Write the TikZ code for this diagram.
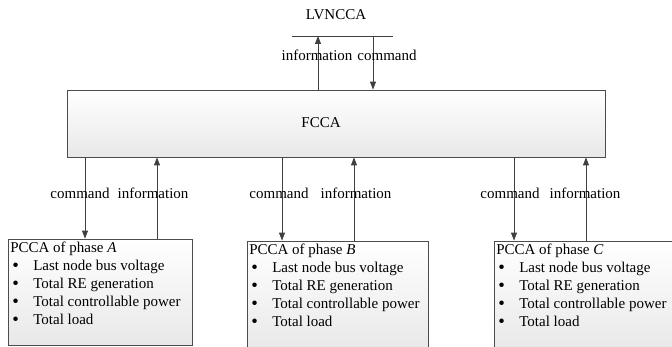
\documentclass[tikz,border=0pt]{standalone}
\usepackage{fontspec}
\setmainfont{Liberation Serif}
\usetikzlibrary{arrows.meta,calc}
\newcommand{\fs}{\fontsize{15}{18}\selectfont}
\newcommand{\itm}[1]{\hspace*{2pt}\makebox[21pt][l]{\raisebox{-0.3pt}{\scalebox{1.25}{\textbullet}}}#1}
\begin{document}
\begin{tikzpicture}[x=1pt,y=-1pt,
  box/.style={draw=black!70, line width=0.8pt, top color=white, bottom color=black!9,
    inner sep=0, minimum width=#1},
  shade/.style={preaction={fill=black!22, transform canvas={shift={(1.2pt,-1.2pt)}}}},
  arr/.style={draw=black!75, line width=0.9pt, -{Triangle[length=8pt,width=6pt]}},
  lbl/.style={font=\fs, inner sep=0, text=black},
  list/.style={font=\fs, inner sep=0, align=left, anchor=north west},
]
\useasboundingbox (0,0) rectangle (672,347);
\clip (0,0) rectangle (672,347);

% agents
\node[box=538pt, minimum height=67pt, shade] (fcca) at (336,123.5) {};
\node[lbl] (fccat) at (321,123) {FCCA};
\node[box=184pt, minimum height=106pt, shade] (pa) at (100,292) {};
\node[box=181pt, minimum height=111pt, shade] (pb) at (337.5,296.5) {};
\node[box=196pt, minimum height=111pt, shade] (pc) at (592,296.5) {};

% upper level
\node[lbl] (lv) at (336,15) {LVNCCA};
\coordinate (busl) at (292,36);
\coordinate (busr) at (393,36);
\draw[black!75, line width=0.9pt] (busl) -- (busr);
\coordinate (xup) at (318,0);
\coordinate (xdn) at (373,0);
\draw[arr] (fcca.north -| xup) -- (busl -| xup);
\draw[arr] (busl -| xdn) -- (fcca.north -| xdn);
\node[lbl] (li0) at (317,55) {information};
\node[lbl] (lc0) at (387,55) {command};

% links to the phase agents
\foreach \n/\c/\i/\lc/\li in {pa/85/157/80/153, pb/282/354/279/356, pc/514/586/510/585}{
  \coordinate (c-\n) at (\c,0);
  \coordinate (i-\n) at (\i,0);
  \draw[arr] (fcca.south -| c-\n) -- (\n.north -| c-\n);
  \draw[arr] (\n.north -| i-\n) -- (fcca.south -| i-\n);
  \node[lbl] (lc-\n) at (\lc,193) {command};
  \node[lbl] (li-\n) at (\li,193) {information};
}

% contents of the phase agents
\foreach \n/\p in {pa/A, pb/B, pc/C}{
  \node[list] (t-\n) at ($(\n.north west)+(2.5,3.5)$)
    {PCCA of phase \textit{\p}\\
     \itm{Last node bus voltage}\\
     \itm{Total RE generation}\\
     \itm{Total controllable power}\\
     \itm{Total load}};
}
\end{tikzpicture}
\end{document}
